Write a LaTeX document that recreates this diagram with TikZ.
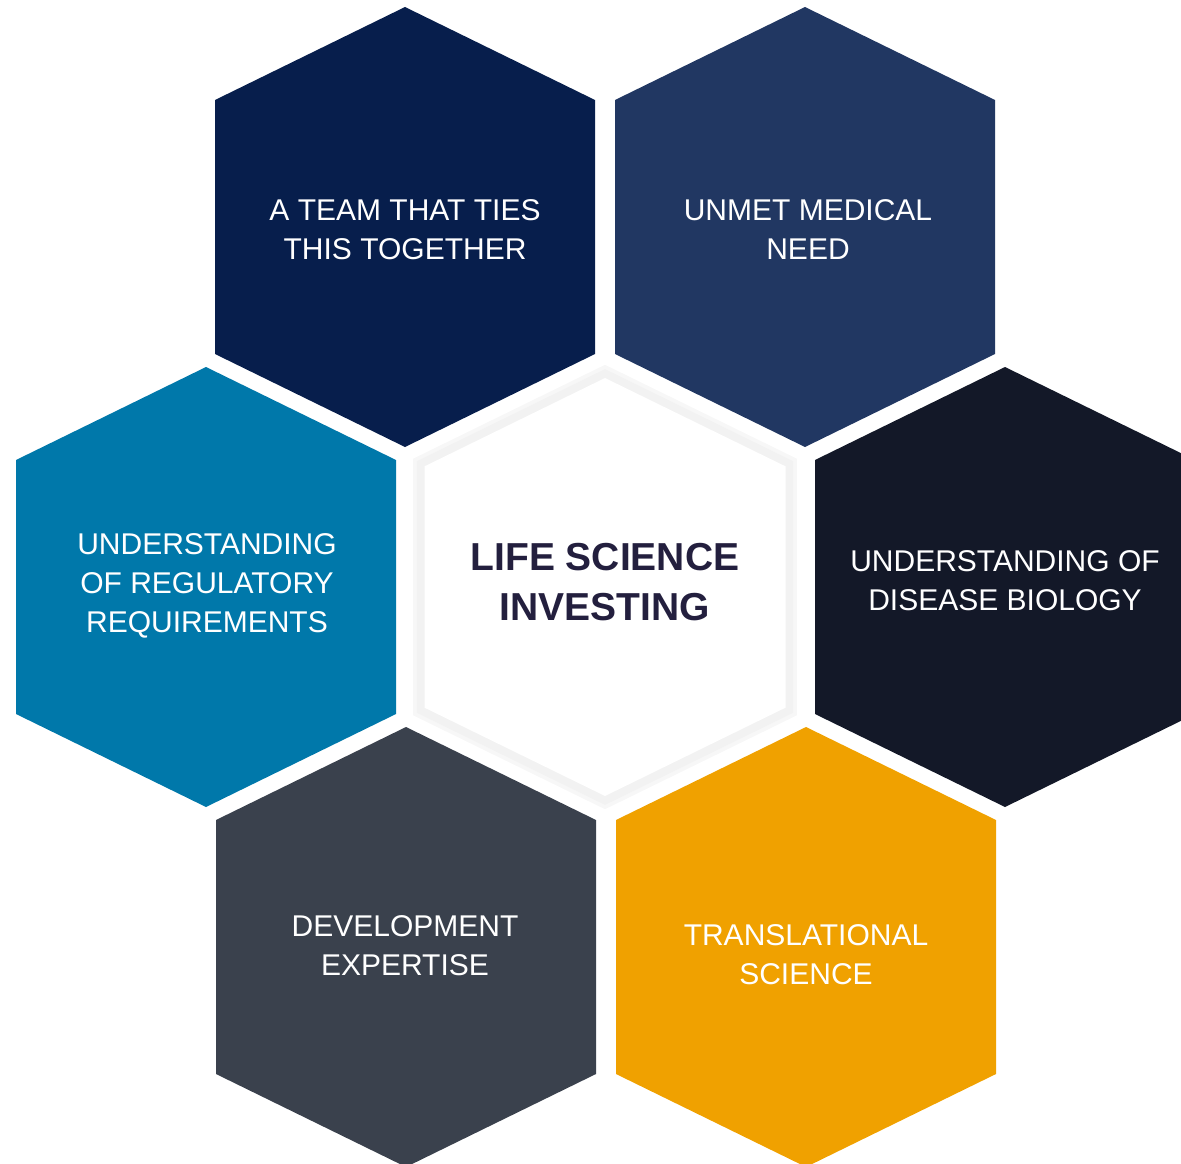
\documentclass[tikz,border=0pt]{standalone}
\usepackage{fontspec}
\setmainfont{Liberation Sans}

\definecolor{teamnavy}{HTML}{071E4C}
\definecolor{needblue}{HTML}{213762}
\definecolor{regblue}{HTML}{0078AA}
\definecolor{bioblack}{HTML}{131828}
\definecolor{devslate}{HTML}{3A414D}
\definecolor{transgold}{HTML}{F0A100}
\definecolor{coreink}{HTML}{231F3E}

% one hexagon, pointy top: #1 fill, #2 centre, #3 scale
\newcommand{\hexfill}[3]{
  \fill [#1] (#2) ++(0,{-220*#3}) -- ++({190*#3},{93*#3}) -- ++(0,{254*#3})
    -- ++({-190*#3},{93*#3}) -- ++({-190*#3},{-93*#3}) -- ++(0,{-254*#3}) -- cycle;
}

\newcommand{\honeycomb}{
  \coordinate (c0) at (605,587);
  \coordinate (c1) at (405,227);
  \coordinate (c2) at (805,227);
  \coordinate (c3) at (206,587);
  \coordinate (c4) at (1005,587);
  \coordinate (c5) at (406,947);
  \coordinate (c6) at (806,947);
}

\tikzset{
  hexlabel/.style={anchor=center,align=center,text=white,inner sep=0pt,
    font=\fontsize{30}{39}\selectfont},
  corelabel/.style={anchor=center,align=center,text=coreink,inner sep=0pt,
    font=\fontsize{39}{50}\selectfont\bfseries}
}

\begin{document}
\begin{tikzpicture}[x=1pt,y=-1pt]
    \clip (0,0) rectangle (1181,1164);
    \honeycomb

    \hexfill{teamnavy}{c1}{1}
    \hexfill{needblue}{c2}{1}
    \hexfill{regblue}{c3}{1}
    \hexfill{bioblack}{c4}{1}
    \hexfill{devslate}{c5}{1}
    \hexfill{transgold}{c6}{1}

    % centre: soft grey rim round a white face
    \hexfill{black!3}{c0}{1.01}
    \hexfill{black!5}{c0}{0.99}
    \hexfill{white}{c0}{0.95}

    \node [hexlabel] (team) at (405,230) {A TEAM THAT TIES\\THIS TOGETHER};
    \node [hexlabel] (need) at (808,230) {UNMET MEDICAL\\NEED};
    \node [hexlabel] (reg) at (207,586)
      {UNDERSTANDING\\OF REGULATORY\\REQUIREMENTS};
    \node [hexlabel] (bio) at (1005,581) {UNDERSTANDING OF\\DISEASE BIOLOGY};
    \node [hexlabel] (dev) at (405,946) {DEVELOPMENT\\EXPERTISE};
    \node [hexlabel] (trans) at (806,955) {TRANSLATIONAL\\SCIENCE};

    \node [corelabel] (core) at (605,582) {LIFE SCIENCE\\INVESTING};
  \end{tikzpicture}
\end{document}
